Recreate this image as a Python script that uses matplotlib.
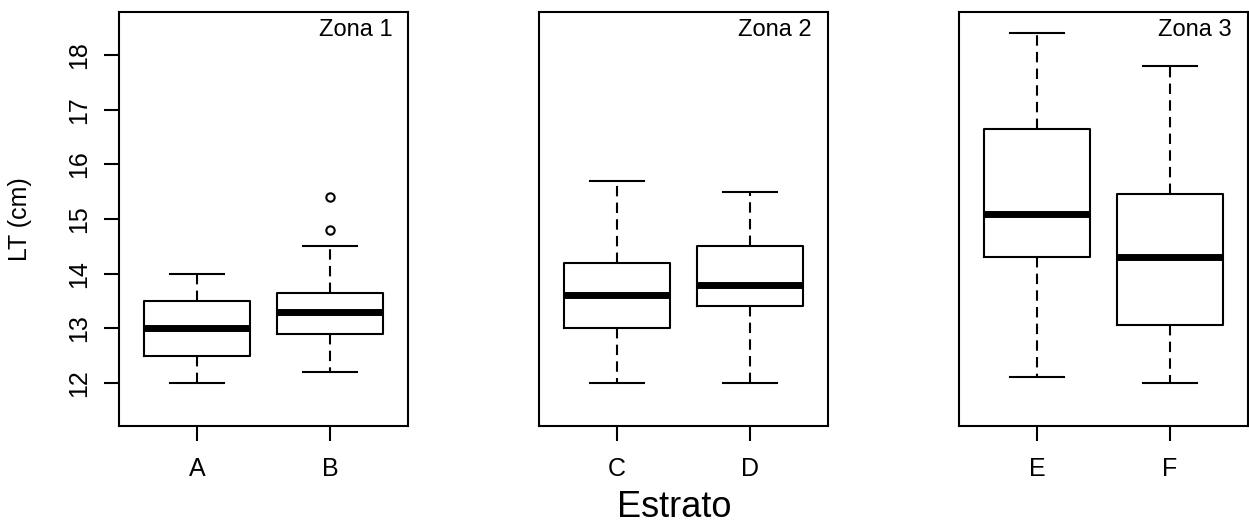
import matplotlib
matplotlib.use("Agg")
from matplotlib import pyplot as plt

plt.rcParams["font.family"] = ["Liberation Sans", "DejaVu Sans"]

# box summaries, two strata per zone
zones = ["Zona 1", "Zona 2", "Zona 3"]
estratos = [["A", "B"], ["C", "D"], ["E", "F"]]
whislo = [[12.0, 12.2], [12.0, 12.0], [12.1, 12.0]]
q1 = [[12.5, 12.9], [13.0, 13.4], [14.3, 13.05]]
med = [[13.0, 13.3], [13.6, 13.8], [15.1, 14.3]]
q3 = [[13.5, 13.65], [14.2, 14.5], [16.65, 15.45]]
whishi = [[14.0, 14.5], [15.7, 15.5], [18.4, 17.8]]
outliers = [[[], [14.8, 15.4]], [[], []], [[], []]]

y_ticks = [12, 13, 14, 15, 16, 17, 18]

fig = plt.figure(figsize=(12.49, 5.23), dpi=100)
lefts = [0.0953, 0.4315, 0.7678]

for i in range(3):
    ax = fig.add_axes([lefts[i], 0.1855, 0.2314, 0.7915])
    stats = []
    for j in range(2):
        stats.append({"label": estratos[i][j], "whislo": whislo[i][j], "q1": q1[i][j],
                      "med": med[i][j], "q3": q3[i][j], "whishi": whishi[i][j],
                      "fliers": outliers[i][j]})
    ax.bxp(stats, positions=[1, 2], widths=0.8, showfliers=True,
           boxprops=dict(color="black", linewidth=1.5),
           medianprops=dict(color="black", linewidth=5, solid_capstyle="butt"),
           whiskerprops=dict(color="black", linewidth=1.5, linestyle=(0, (5, 3))),
           capprops=dict(color="black", linewidth=1.5),
           capwidths=0.4,
           flierprops=dict(marker="o", markersize=6, markerfacecolor="none",
                           markeredgecolor="black", markeredgewidth=1.5))
    ax.set_xlim(0.414, 2.586)
    ax.set_ylim(11.21, 18.79)
    for s in ax.spines.values():
        s.set_linewidth(1.5)
    ax.tick_params(axis="x", length=11, width=1.5, pad=11, labelsize=18)
    if i == 0:
        ax.set_yticks(y_ticks)
        ax.tick_params(axis="y", length=11, width=1.5, pad=9, labelsize=18)
        for lab in ax.get_yticklabels():
            lab.set_rotation(90)
            lab.set_va("center")
        ax.set_ylabel("LT (cm)", fontsize=18)
        ax.yaxis.set_label_coords(-0.30, 0.5)
    else:
        ax.set_yticks([])
    ax.text(0.945, 0.942, zones[i], transform=ax.transAxes, ha="right",
            va="baseline", fontsize=17)

fig.text(0.540, 0.012, "Estrato", ha="center", va="baseline", fontsize=26)

fig.savefig("out.png", dpi=100)
